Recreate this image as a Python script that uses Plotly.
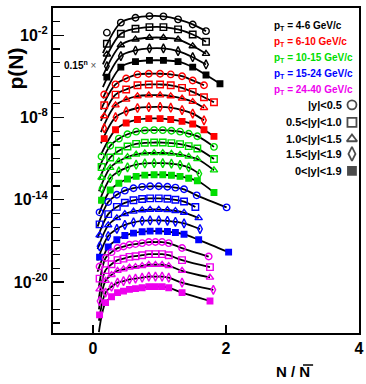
import plotly.graph_objects as go

scale = 0.15
pt_names = ["4-6", "6-10", "10-15", "15-24", "24-40"]
pt_colors = ["#000000", "#ff0000", "#00dd00", "#0000ff", "#ee00ee"]
y_names = ["|y|<0.5", "0.5<|y|<1.0", "1.0<|y|<1.5", "1.5<|y|<1.9", "0<|y|<1.9"]
y_symbols = ["circle-open", "square-open", "triangle-up-open", "diamond-tall-open", "square"]
marker_sizes = [6.5, 6.5, 6.5, 6.5, 5.5]

# ---- pT 4-6 GeV/c (unscaled p(N)) ----
z_pt1 = [
    [0.21, 0.42, 0.64, 0.85, 1.06, 1.28, 1.50, 1.70],
    [0.21, 0.42, 0.64, 0.85, 1.06, 1.28, 1.50, 1.70],
    [0.21, 0.42, 0.64, 0.85, 1.06, 1.28, 1.50, 1.70],
    [0.21, 0.42, 0.64, 0.85, 1.06, 1.28, 1.50, 1.70],
    [0.21, 0.42, 0.64, 0.85, 1.06, 1.28, 1.50, 1.70, 1.91],
]
p_pt1 = [
    [0.0158, 0.0851, 0.195, 0.257, 0.245, 0.148, 0.0631, 0.0204],
    [0.0162, 0.0871, 0.204, 0.269, 0.269, 0.182, 0.0776, 0.0229],
    [0.0182, 0.0871, 0.229, 0.302, 0.302, 0.229, 0.0741, 0.0204],
    [0.0166, 0.0912, 0.234, 0.331, 0.331, 0.209, 0.0759, 0.0224],
    [0.0178, 0.0955, 0.240, 0.295, 0.295, 0.240, 0.0955, 0.0251, 0.00589],
]
# ---- pT 6-10 GeV/c ----
z_pt2 = [
    [0.17, 0.34, 0.50, 0.67, 0.84, 1.01, 1.17, 1.34, 1.50, 1.67],
    [0.17, 0.34, 0.50, 0.67, 0.84, 1.01, 1.17, 1.34, 1.50, 1.67, 1.82],
    [0.17, 0.34, 0.50, 0.67, 0.84, 1.01, 1.17, 1.34, 1.50, 1.67],
    [0.17, 0.34, 0.50, 0.67, 0.84, 1.01, 1.17, 1.34, 1.50, 1.67],
    [0.17, 0.34, 0.50, 0.67, 0.84, 1.01, 1.17, 1.34, 1.50, 1.67, 1.82],
]
p_pt2 = [
    [0.00631, 0.0347, 0.0933, 0.186, 0.209, 0.209, 0.186, 0.138, 0.0676, 0.0302],
    [0.00692, 0.0417, 0.0977, 0.200, 0.229, 0.229, 0.200, 0.129, 0.0661, 0.0269, 0.0115],
    [0.00741, 0.0468, 0.123, 0.214, 0.251, 0.251, 0.214, 0.145, 0.0832, 0.0302],
    [0.00661, 0.0417, 0.110, 0.195, 0.229, 0.234, 0.204, 0.138, 0.0759, 0.0245],
    [0.00759, 0.0339, 0.105, 0.186, 0.219, 0.219, 0.186, 0.138, 0.0891, 0.0339, 0.0110],
]
# ---- pT 10-15 GeV/c ----
z_pt3 = [
    [0.13, 0.26, 0.39, 0.52, 0.65, 0.78, 0.92, 1.05, 1.18, 1.31, 1.44, 1.57, 1.82],
    [0.13, 0.26, 0.39, 0.52, 0.65, 0.78, 0.92, 1.05, 1.18, 1.31, 1.44, 1.57, 1.82],
    [0.13, 0.26, 0.39, 0.52, 0.65, 0.78, 0.92, 1.05, 1.18, 1.31, 1.44, 1.57, 1.82],
    [0.13, 0.26, 0.39, 0.52, 0.65, 0.78, 0.92, 1.05, 1.18, 1.31, 1.44, 1.60],
    [0.13, 0.26, 0.39, 0.52, 0.65, 0.78, 0.92, 1.05, 1.18, 1.31, 1.44, 1.57, 1.82],
]
p_pt3 = [
    [0.00251, 0.0151, 0.0501, 0.105, 0.162, 0.200, 0.209, 0.209, 0.191, 0.162, 0.115, 0.0759, 0.0126],
    [0.00282, 0.0141, 0.0437, 0.0891, 0.138, 0.166, 0.174, 0.174, 0.158, 0.132, 0.0955, 0.0631, 0.0110],
    [0.00316, 0.0166, 0.0501, 0.102, 0.155, 0.191, 0.200, 0.200, 0.182, 0.151, 0.110, 0.0724, 0.0110],
    [0.00355, 0.0191, 0.0603, 0.120, 0.186, 0.229, 0.240, 0.240, 0.219, 0.182, 0.117, 0.0407],
    [0.00316, 0.0174, 0.0550, 0.112, 0.174, 0.214, 0.229, 0.229, 0.209, 0.174, 0.126, 0.0832, 0.0117],
]
# ---- pT 15-24 GeV/c ----
z_pt4 = [
    [0.10, 0.23, 0.36, 0.48, 0.61, 0.74, 0.86, 0.99, 1.12, 1.24, 1.37, 1.56, 2.01],
    [0.10, 0.23, 0.36, 0.48, 0.61, 0.74, 0.86, 0.99, 1.12, 1.24, 1.37, 1.54],
    [0.10, 0.23, 0.36, 0.48, 0.61, 0.74, 0.86, 0.99, 1.12, 1.24, 1.37, 1.59],
    [0.10, 0.23, 0.36, 0.48, 0.61, 0.74, 0.86, 0.99, 1.12, 1.24, 1.37, 1.61],
    [0.10, 0.23, 0.36, 0.48, 0.61, 0.74, 0.86, 0.99, 1.12, 1.24, 1.37, 1.59, 2.04],
]
p_pt4 = [
    [0.00275, 0.0155, 0.0525, 0.105, 0.158, 0.200, 0.219, 0.219, 0.204, 0.174, 0.132, 0.0479, 0.00631],
    [0.00240, 0.0135, 0.0457, 0.0912, 0.138, 0.174, 0.191, 0.191, 0.178, 0.151, 0.112, 0.0447],
    [0.00260, 0.0141, 0.0468, 0.0933, 0.141, 0.178, 0.195, 0.195, 0.182, 0.155, 0.115, 0.0468],
    [0.00270, 0.0151, 0.0501, 0.100, 0.151, 0.191, 0.209, 0.209, 0.195, 0.166, 0.126, 0.0490],
    [0.00290, 0.0158, 0.0537, 0.110, 0.166, 0.209, 0.229, 0.229, 0.214, 0.182, 0.138, 0.0537, 0.00676],
]
# ---- pT 24-40 GeV/c ----
z_pt5 = [
    [0.10, 0.19, 0.28, 0.37, 0.46, 0.55, 0.64, 0.74, 0.84, 0.94, 1.04, 1.14, 1.34, 1.74],
    [0.10, 0.19, 0.28, 0.37, 0.46, 0.55, 0.64, 0.74, 0.84, 0.94, 1.04, 1.14, 1.34, 1.76],
    [0.10, 0.19, 0.28, 0.37, 0.46, 0.55, 0.64, 0.74, 0.84, 0.94, 1.04, 1.14, 1.34, 1.76],
    [0.10, 0.19, 0.28, 0.37, 0.46, 0.55, 0.64, 0.74, 0.84, 0.94, 1.04, 1.14, 1.34, 1.81],
    [0.10, 0.19, 0.28, 0.37, 0.46, 0.55, 0.64, 0.74, 0.84, 0.94, 1.04, 1.14, 1.34, 1.76],
]
p_pt5 = [
    [0.00398, 0.0166, 0.0447, 0.0891, 0.115, 0.155, 0.174, 0.204, 0.245, 0.245, 0.245, 0.204, 0.0891, 0.0214],
    [0.00347, 0.0145, 0.0389, 0.0776, 0.100, 0.135, 0.151, 0.178, 0.214, 0.214, 0.214, 0.178, 0.0776, 0.0240],
    [0.00389, 0.0162, 0.0437, 0.0871, 0.112, 0.151, 0.170, 0.200, 0.240, 0.240, 0.240, 0.200, 0.0871, 0.0282],
    [0.00355, 0.0148, 0.0398, 0.0794, 0.102, 0.138, 0.155, 0.182, 0.219, 0.219, 0.219, 0.182, 0.0794, 0.0234],
    [0.00234, 0.0182, 0.0490, 0.0977, 0.126, 0.170, 0.191, 0.224, 0.269, 0.269, 0.269, 0.224, 0.0977, 0.0240],
]

# start of each fit curve (low-N end), per pT bin, unscaled
fit_start_z = [0.15, 0.12, 0.09, 0.07, 0.09]
fit_start_p = [5.0e-4, 5.0e-4, 3.2e-4, 2.5e-4, 1.3e-4]

z_all = [z_pt1, z_pt2, z_pt3, z_pt4, z_pt5]
p_all = [p_pt1, p_pt2, p_pt3, p_pt4, p_pt5]

FONT = "Liberation Sans, Arial, Helvetica, sans-serif"

fig = go.Figure()

for g in range(5):
    for r in range(5):
        n = 5 * g + r
        f = scale ** n
        zs = z_all[g][r]
        ps = [v * f for v in p_all[g][r]]
        fz = [fit_start_z[g]] + zs[1:]
        fp = [fit_start_p[g] * f] + ps[1:]
        fig.add_trace(go.Scatter(
            x=fz, y=fp, mode="lines",
            line=dict(color="black", width=1.8, shape="spline", smoothing=1.0),
            hoverinfo="skip", showlegend=False,
        ))
        fig.add_trace(go.Scatter(
            x=zs, y=ps, mode="markers",
            marker=dict(symbol=y_symbols[r], size=marker_sizes[r], color=pt_colors[g],
                        line=dict(width=1.4, color=pt_colors[g])),
            name=f"{pt_names[g]} {y_names[r]}", showlegend=False,
        ))

# legend markers for rapidity bins (overlay axis in plot-fraction units)
leg_y = [0.702, 0.648, 0.597, 0.551, 0.499]
fig.add_trace(go.Scatter(
    x=[0.977] * 5, y=leg_y, xaxis="x2", yaxis="y2", mode="markers",
    marker=dict(symbol=y_symbols, size=[9, 9, 9, 10, 8], color="black",
                line=dict(width=1.8, color="black")),
    hoverinfo="skip", showlegend=False,
))

annotations = []
pt_leg_y = [0.945, 0.895, 0.846, 0.797, 0.748]
for g in range(5):
    annotations.append(dict(
        x=0.716, y=pt_leg_y[g], xref="paper", yref="paper", xanchor="left", yanchor="middle",
        text=f"<b>p<sub>T</sub> = {pt_names[g]} GeV/c</b>", showarrow=False,
        font=dict(family=FONT, size=10, color=pt_colors[g]),
    ))
for r in range(5):
    annotations.append(dict(
        x=0.951, y=leg_y[r], xref="paper", yref="paper", xanchor="right", yanchor="middle",
        text=f"<b>{y_names[r].replace('<', '&lt;')}</b>", showarrow=False,
        font=dict(family=FONT, size=11, color="black"),
    ))
annotations.append(dict(
    x=0.029, y=0.825, xref="paper", yref="paper", xanchor="left", yanchor="middle",
    text="<b>0.15<sup>n</sup></b> <span style='color:#555555'>×</span>", showarrow=False,
    font=dict(family=FONT, size=10, color="black"),
))
annotations.append(dict(
    x=-0.124, y=0.814, xref="paper", yref="paper", xanchor="center", yanchor="middle",
    text="<b>p(N)</b>", textangle=-90, showarrow=False,
    font=dict(family=FONT, size=21, color="black"),
))
annotations.append(dict(
    x=0.784, y=-0.118, xref="paper", yref="paper", xanchor="center", yanchor="middle",
    text="<b>N / N</b>", showarrow=False,
    font=dict(family=FONT, size=15, color="black"),
))

shapes = [dict(type="line", xref="paper", yref="paper", x0=0.817, x1=0.850, y0=-0.0985, y1=-0.0985,
               line=dict(color="black", width=1.5))]

decades = [10.0 ** k for k in range(-23, 0)]
fig.update_layout(
    width=366, height=384,
    margin=dict(l=53, r=7, t=8, b=51, autoexpand=False),
    paper_bgcolor="white", plot_bgcolor="white",
    font=dict(family=FONT, color="black"),
    annotations=annotations, shapes=shapes,
    xaxis=dict(range=[-0.6, 4.0], tickvals=[0, 2, 4], ticktext=["<b>0</b>", "<b>2</b>", "<b>4</b>"],
               ticks="inside", ticklen=8, tickwidth=1.2, tickcolor="black",
               showline=True, linewidth=2, linecolor="black", mirror=True, automargin=False,
               showgrid=False, zeroline=False, tickfont=dict(family=FONT, size=16)),
    yaxis=dict(type="log", range=[-23.73, 0.0],
               tickvals=[1e-20, 1e-14, 1e-8, 1e-2],
               ticktext=["<b>10<sup>-20</sup></b>", "<b>10<sup>-14</sup></b>",
                         "<b>10<sup>-8</sup></b>", "<b>10<sup>-2</sup></b>"],
               ticks="inside", ticklen=11, tickwidth=1.2, tickcolor="black",
               minor=dict(tickvals=decades, ticks="inside", ticklen=7, tickwidth=1.2, tickcolor="black"),
               showline=True, linewidth=2, linecolor="black", mirror=True, automargin=False,
               showgrid=False, zeroline=False, tickfont=dict(family=FONT, size=16)),
    xaxis2=dict(overlaying="x", range=[0, 1], visible=False),
    yaxis2=dict(overlaying="y", range=[0, 1], visible=False),
)

fig.write_html("out.html", config={"displayModeBar": False, "staticPlot": True},
               post_script="document.body.style.margin='0px';document.body.style.overflow='hidden';")
